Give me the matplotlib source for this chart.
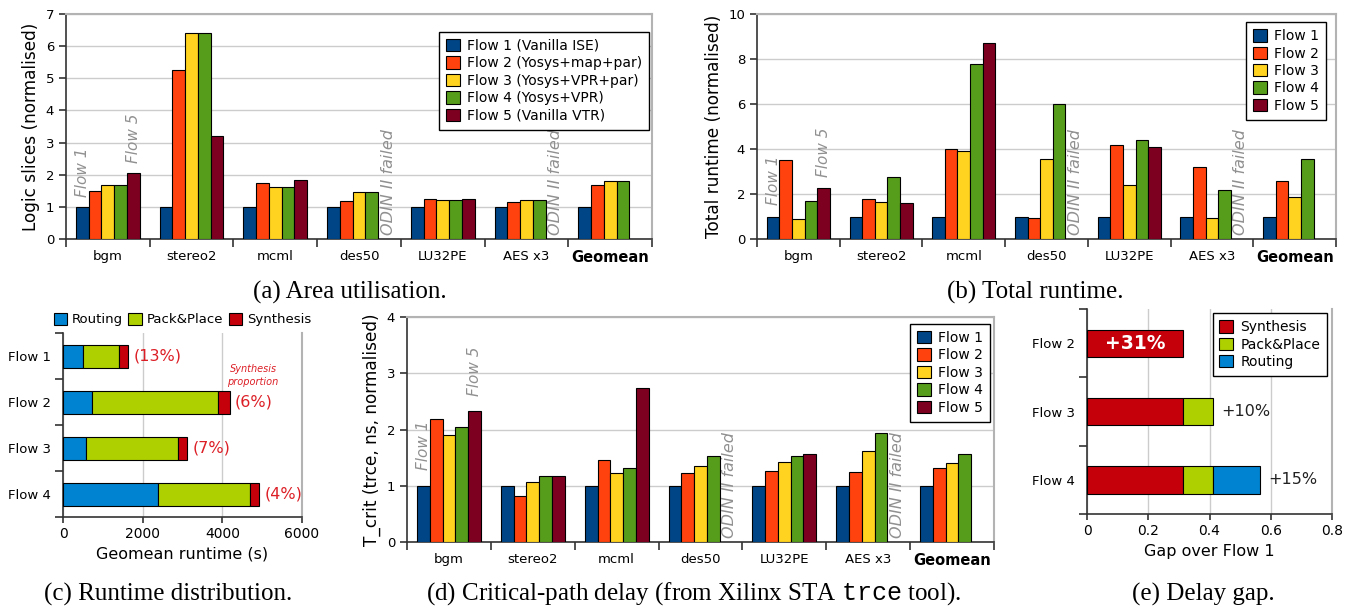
import numpy as np
import matplotlib.pyplot as plt

plt.rcParams['font.family'] = 'DejaVu Sans'
plt.rcParams['mathtext.fontset'] = 'custom'
plt.rcParams['mathtext.rm'] = 'Liberation Serif'
plt.rcParams['mathtext.tt'] = 'Liberation Mono'

# Дані
benchmarks = ['bgm', 'stereo2', 'mcml', 'des50', 'LU32PE', 'AES x3', 'Geomean']

area_f1 = [1, 1, 1, 1, 1, 1, 1]
area_f2 = [1.48, 5.27, 1.73, 1.18, 1.26, 1.14, 1.69]
area_f3 = [1.68, 6.42, 1.62, 1.45, 1.20, 1.20, 1.82]
area_f4 = [1.68, 6.42, 1.62, 1.45, 1.20, 1.20, 1.82]
area_f5 = [2.05, 3.22, 1.84, None, 1.25, None, None]

runtime_f1 = [1, 1, 1, 1, 1, 1, 1]
runtime_f2 = [3.50, 1.78, 4.02, 0.93, 4.20, 3.18, 2.60]
runtime_f3 = [0.87, 1.65, 3.92, 3.55, 2.40, 0.92, 1.88]
runtime_f4 = [1.67, 2.75, 7.80, 6.00, 4.42, 2.17, 3.55]
runtime_f5 = [2.25, 1.58, 8.70, None, 4.10, None, None]

delay_f1 = [1, 1, 1, 1, 1, 1, 1]
delay_f2 = [2.19, 0.81, 1.45, 1.23, 1.27, 1.25, 1.31]
delay_f3 = [1.90, 1.06, 1.22, 1.36, 1.43, 1.61, 1.40]
delay_f4 = [2.05, 1.18, 1.31, 1.53, 1.53, 1.94, 1.56]
delay_f5 = [2.33, 1.18, 2.73, None, 1.56, None, None]

area_labels = ['Flow 1 (Vanilla ISE)', 'Flow 2 (Yosys+map+par)', 'Flow 3 (Yosys+VPR+par)',
               'Flow 4 (Yosys+VPR)', 'Flow 5 (Vanilla VTR)']
flow_labels = ['Flow 1', 'Flow 2', 'Flow 3', 'Flow 4', 'Flow 5']

# Розподіл часу виконання (с)
dist_flows = ['Flow 1', 'Flow 2', 'Flow 3', 'Flow 4']
dist_routing = [490, 735, 580, 2375]
dist_packplace = [915, 3165, 2310, 2325]
dist_synthesis = [220, 280, 220, 210]
dist_pct = ['(13%)', '(6%)', '(7%)', '(4%)']

# Розрив затримки
gap_flows = ['Flow 2', 'Flow 3', 'Flow 4']
gap_synthesis = [0.315, 0.315, 0.315]
gap_packplace = [0, 0.095, 0.095]
gap_routing = [0, 0, 0.155]
gap_text = ['+31%', '+10%', '+15%']

flow_colors = ['#004586', '#ff420e', '#ffd320', '#579d1c', '#7e0021']
c_route, c_pack, c_synth = '#0084d1', '#aecf00', '#c5000b'
red_txt = '#dc1f26'
grey_txt = '#909090'

W, H = 1347, 606
fig = plt.figure(figsize=(W / 100, H / 100), dpi=100)


def box(x0, x1, y0, y1):
    return fig.add_axes([x0 / W, 1 - y1 / H, (x1 - x0) / W, (y1 - y0) / H])


def style(ax, top=True):
    for s in ['left', 'bottom']:
        ax.spines[s].set_color('#333333')
        ax.spines[s].set_linewidth(1.2)
    ax.spines['right'].set_color('#b3b3b3')
    ax.spines['right'].set_linewidth(1.5)
    ax.spines['top'].set_color('#b3b3b3')
    ax.spines['top'].set_linewidth(1.5)
    ax.spines['top'].set_visible(top)
    ax.set_axisbelow(True)


def add_legend(ax, anchor, **kw):
    leg = ax.legend(loc='upper right', bbox_to_anchor=anchor, fontsize=10, fancybox=False,
                    edgecolor='black', framealpha=1, handlelength=1.0, handleheight=1.0,
                    labelspacing=0.25, borderpad=0.5, handletextpad=0.5, borderaxespad=0, **kw)
    leg.get_frame().set_linewidth(1.0)
    return leg


def grouped(ax, series, ymax, step, ylabel, labels, anchor, off):
    n = len(benchmarks)
    x = np.arange(n) + 0.5
    w = 0.152
    for k, vals in enumerate(series):
        xs = [x[i] + (k - 2) * w for i, v in enumerate(vals) if v is not None]
        hs = [v for v in vals if v is not None]
        ax.bar(xs, hs, w, color=flow_colors[k], edgecolor='black', linewidth=0.8,
               label=labels[k], zorder=3)
    style(ax)
    ax.set_xlim(0, n)
    ax.set_ylim(0, ymax)
    ax.set_yticks(np.arange(0, ymax + step / 2, step))
    ax.yaxis.grid(True, color='#cccccc', linewidth=1.0)
    ax.set_xticks(np.arange(n + 1))
    ax.set_xticklabels([])
    ax.set_xticks(x, minor=True)
    ax.set_xticklabels(benchmarks, minor=True, fontsize=9.5)
    ax.get_xticklabels(minor=True)[-1].set_fontweight('bold')
    ax.get_xticklabels(minor=True)[-1].set_fontsize(10.5)
    ax.tick_params(axis='x', which='major', length=6, width=1.2, color='#333333')
    ax.tick_params(axis='x', which='minor', length=0, pad=8)
    ax.tick_params(axis='y', length=5, width=1.2, color='#333333', labelsize=9.5)
    ax.set_ylabel(ylabel, fontsize=12.2)
    # підписи над першою групою
    ax.annotate('Flow 1', (x[0] - 2 * w, series[0][0]), xytext=(0, off), textcoords='offset points',
                rotation=90, ha='center', va='bottom', fontsize=11, style='italic', color=grey_txt)
    ax.annotate('Flow 5', (x[0] + 2 * w, series[4][0]), xytext=(0, off), textcoords='offset points',
                rotation=90, ha='center', va='bottom', fontsize=11, style='italic', color=grey_txt)
    for i, v in enumerate(series[4]):
        if v is None and benchmarks[i] != 'Geomean':
            ax.annotate('ODIN II failed', (x[i] + 2.3 * w, 0), xytext=(0, 3), textcoords='offset points',
                        rotation=90, ha='center', va='bottom', fontsize=11.5, style='italic',
                        color=grey_txt)
    add_legend(ax, anchor)


# (a) площа
ax_a = box(66, 652, 14, 239)
grouped(ax_a, [area_f1, area_f2, area_f3, area_f4, area_f5], 7, 1,
        'Logic slices (normalised)', area_labels, (0.995, 0.92), 7)

# (b) загальний час
ax_b = box(757, 1336, 14, 239)
grouped(ax_b, [runtime_f1, runtime_f2, runtime_f3, runtime_f4, runtime_f5], 10, 2,
        'Total runtime (normalised)', flow_labels, (0.983, 0.964), 8)

# (d) критичний шлях
ax_d = box(407, 994, 317, 542)
grouped(ax_d, [delay_f1, delay_f2, delay_f3, delay_f4, delay_f5], 4, 1,
        'T_crit (trce, ns, normalised)', flow_labels, (0.993, 0.969), 11)

# (c) розподіл часу
ax_c = box(63, 302, 333, 517)
yc = np.arange(len(dist_flows))
left = np.zeros(len(dist_flows))
for vals, col, lab in [(dist_routing, c_route, 'Routing'), (dist_packplace, c_pack, 'Pack&Place'),
                       (dist_synthesis, c_synth, 'Synthesis')]:
    ax_c.barh(yc, vals, 0.5, left=left, color=col, edgecolor='black', linewidth=0.8,
              label=lab, zorder=3)
    left += np.array(vals)
for i, t in enumerate(dist_pct):
    ax_c.annotate(t, (left[i], yc[i]), xytext=(4, 0), textcoords='offset points',
                  va='center', ha='left', fontsize=11.5, color=red_txt)
ax_c.text(4770, 0.42, 'Synthesis\nproportion', fontsize=7, style='italic', color=red_txt,
          ha='center', va='center', linespacing=1.3)
style(ax_c, top=False)
ax_c.set_xlim(0, 6000)
ax_c.set_ylim(len(dist_flows) - 0.5, -0.5)
ax_c.set_xticks([0, 2000, 4000, 6000])
ax_c.xaxis.grid(True, color='#cccccc', linewidth=1.0)
ax_c.set_yticks(np.arange(len(dist_flows) + 1) - 0.5)
ax_c.set_yticklabels([])
ax_c.set_yticks(yc, minor=True)
ax_c.set_yticklabels(dist_flows, minor=True, fontsize=9.5)
ax_c.tick_params(axis='y', which='major', length=6, width=1.2, color='#333333')
ax_c.tick_params(axis='y', which='minor', length=0, pad=9)
ax_c.tick_params(axis='x', length=4, width=1.2, color='#333333', labelsize=10)
ax_c.set_xlabel('Geomean runtime (s)', fontsize=11.5)
ax_c.legend(loc='lower center', bbox_to_anchor=(0.5, 1.0), ncol=3, frameon=False, fontsize=9.5,
            handlelength=1.0, handleheight=1.0, handletextpad=0.4, columnspacing=0.4,
            borderaxespad=0.1)

# (e) розрив затримки
ax_e = box(1087, 1332, 309, 514)
ye = np.arange(len(gap_flows))
left = np.zeros(len(gap_flows))
for vals, col, lab in [(gap_synthesis, c_synth, 'Synthesis'), (gap_packplace, c_pack, 'Pack&Place'),
                       (gap_routing, c_route, 'Routing')]:
    idx = [i for i, v in enumerate(vals) if v > 0]
    ax_e.barh(ye[idx], [vals[i] for i in idx], 0.4, left=left[idx], color=col, edgecolor='black',
              linewidth=0.8, label=lab, zorder=3)
    left += np.array(vals)
ax_e.text(left[0] / 2, ye[0], gap_text[0], color='white', fontweight='bold', fontsize=13.5,
          ha='center', va='center', zorder=4)
for i in [1, 2]:
    ax_e.annotate(gap_text[i], (left[i], ye[i]), xytext=(6, 0), textcoords='offset points',
                  va='center', ha='left', fontsize=11.5, color='#222222')
style(ax_e, top=False)
ax_e.set_xlim(0, 0.8)
ax_e.set_ylim(len(gap_flows) - 0.5, -0.5)
ax_e.set_xticks([0, 0.2, 0.4, 0.6, 0.8])
ax_e.set_xticklabels(['0', '0.2', '0.4', '0.6', '0.8'])
ax_e.xaxis.grid(True, color='#cccccc', linewidth=1.0)
ax_e.set_yticks(np.arange(len(gap_flows) + 1) - 0.5)
ax_e.set_yticklabels([])
ax_e.set_yticks(ye, minor=True)
ax_e.set_yticklabels(gap_flows, minor=True, fontsize=9.5)
ax_e.tick_params(axis='y', which='major', length=6, width=1.2, color='#333333')
ax_e.tick_params(axis='y', which='minor', length=0, pad=9)
ax_e.tick_params(axis='x', length=4, width=1.2, color='#333333', labelsize=10)
ax_e.set_xlabel('Gap over Flow 1', fontsize=11.5)
add_legend(ax_e, (0.98, 0.98))

# Підписи
cap = dict(fontsize=18, family='Liberation Serif', ha='center', va='center')
fig.text(350 / W, 1 - 292 / H, '(a) Area utilisation.', **cap)
fig.text(1035 / W, 1 - 292 / H, '(b) Total runtime.', **cap)
fig.text(168 / W, 1 - 594 / H, '(c) Runtime distribution.', **cap)
fig.text(694 / W, 1 - 594 / H, r'(d) Critical-path delay (from Xilinx STA $\mathtt{trce}$ tool).', **cap)
fig.text(1203 / W, 1 - 594 / H, '(e) Delay gap.', **cap)

fig.savefig('out.png', dpi=100)
